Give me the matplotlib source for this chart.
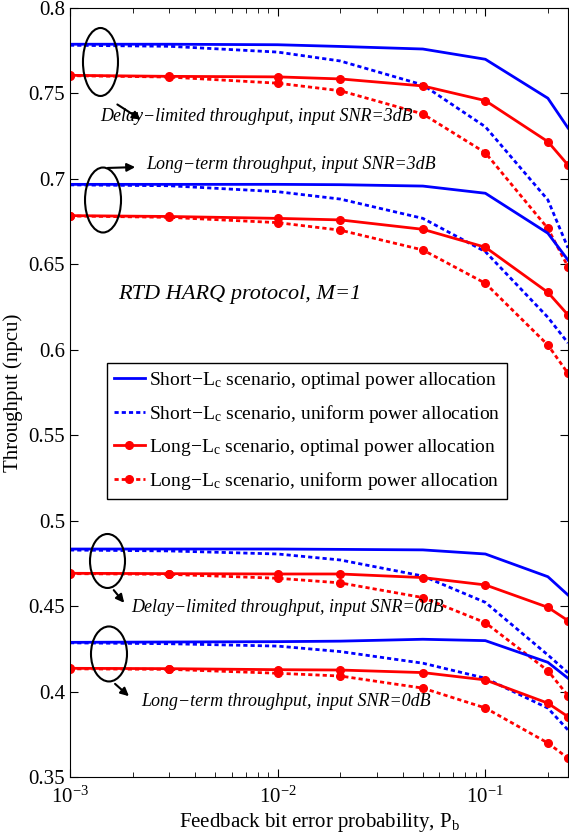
import matplotlib
matplotlib.use("Agg")
import matplotlib.pyplot as plt
from matplotlib.patches import Ellipse

plt.rcParams['font.family'] = ['Liberation Serif', 'DejaVu Serif']
plt.rcParams['mathtext.fontset'] = 'custom'
plt.rcParams['mathtext.rm'] = 'Liberation Serif'
plt.rcParams['mathtext.it'] = 'Liberation Serif:italic'

# feedback bit error probability
pb = [1e-3, 3e-3, 1e-2, 2e-2, 5e-2, 0.1, 0.2, 0.25]

# SNR = 3 dB, delay-limited
short_opt_dl3 = [0.7788, 0.7788, 0.7785, 0.7775, 0.7760, 0.7700, 0.7472, 0.7298]
short_uni_dl3 = [0.7782, 0.7776, 0.7742, 0.7690, 0.7550, 0.7305, 0.6877, 0.6596]
long_opt_dl3 = [0.7606, 0.7600, 0.7597, 0.7585, 0.7544, 0.7458, 0.7218, 0.7081]
long_uni_dl3 = [0.7604, 0.7596, 0.7560, 0.7516, 0.7380, 0.7153, 0.6710, 0.6486]

# SNR = 3 dB, long-term
short_opt_lt3 = [0.6968, 0.6968, 0.6968, 0.6966, 0.6958, 0.6916, 0.6682, 0.6525]
short_uni_lt3 = [0.6965, 0.6960, 0.6925, 0.6882, 0.6769, 0.6574, 0.6190, 0.6040]
long_opt_lt3 = [0.6785, 0.6780, 0.6769, 0.6760, 0.6705, 0.6600, 0.6336, 0.6204]
long_uni_lt3 = [0.6783, 0.6775, 0.6744, 0.6700, 0.6584, 0.6389, 0.6028, 0.5862]

# SNR = 0 dB, delay-limited
short_opt_dl0 = [0.4834, 0.4834, 0.4834, 0.4832, 0.4829, 0.4805, 0.4672, 0.4565]
short_uni_dl0 = [0.4828, 0.4823, 0.4805, 0.4770, 0.4676, 0.4522, 0.4214, 0.4110]
long_opt_dl0 = [0.4692, 0.4690, 0.4688, 0.4688, 0.4667, 0.4624, 0.4493, 0.4415]
long_uni_dl0 = [0.4690, 0.4686, 0.4663, 0.4636, 0.4550, 0.4403, 0.4122, 0.3976]

# SNR = 0 dB, long-term
short_opt_lt0 = [0.4288, 0.4290, 0.4292, 0.4295, 0.4306, 0.4298, 0.4171, 0.4078]
short_uni_lt0 = [0.4285, 0.4280, 0.4266, 0.4234, 0.4166, 0.4078, 0.3903, 0.3775]
long_opt_lt0 = [0.4136, 0.4134, 0.4128, 0.4126, 0.4111, 0.4068, 0.3932, 0.3853]
long_uni_lt0 = [0.4133, 0.4130, 0.4107, 0.4091, 0.4020, 0.3904, 0.3699, 0.3610]

labels = ['Short$\u2212$L$_\\mathrm{c}$ scenario, optimal power allocation',
          'Short$\u2212$L$_\\mathrm{c}$ scenario, uniform power allocation',
          'Long$\u2212$L$_\\mathrm{c}$ scenario, optimal power allocation',
          'Long$\u2212$L$_\\mathrm{c}$ scenario, uniform power allocation']
yticks = [0.35, 0.4, 0.45, 0.5, 0.55, 0.6, 0.65, 0.7, 0.75, 0.8]

fig = plt.figure(figsize=(5.69, 8.35), dpi=100)
ax = fig.add_axes([70 / 569, 1 - 777 / 835, 498 / 569, 769 / 835])

dash = (0, (1.5, 1.1))
lw = 2
groups = [(short_opt_dl3, short_uni_dl3, long_opt_dl3, long_uni_dl3),
          (short_opt_lt3, short_uni_lt3, long_opt_lt3, long_uni_lt3),
          (short_opt_dl0, short_uni_dl0, long_opt_dl0, long_uni_dl0),
          (short_opt_lt0, short_uni_lt0, long_opt_lt0, long_uni_lt0)]
for i, (so, su, lo, lu) in enumerate(groups):
    lab = labels if i == 0 else [None] * 4
    ax.plot(pb, so, color='blue', lw=lw, label=lab[0])
    ax.plot(pb, su, color='blue', lw=lw, ls=dash, label=lab[1])
    ax.plot(pb, lo, color='red', lw=lw, marker='o', ms=5.5, label=lab[2])
    ax.plot(pb, lu, color='red', lw=lw, ls=dash, marker='o', ms=5.5, label=lab[3])

ax.set_xscale('log')
ax.set_xlim(1e-3, 0.25)
ax.set_ylim(0.35, 0.8)
ax.set_yticks(yticks)
ax.set_yticklabels([('%.2f' % v).rstrip('0') for v in yticks])
ax.tick_params(which='both', direction='in', top=True, right=True, labelsize=15)
ax.tick_params(which='major', length=6)
ax.tick_params(which='minor', length=3.5)
ax.tick_params(axis='x', pad=7)
ax.set_xlabel('Feedback bit error probability, P$_\\mathrm{b}$', fontsize=15, labelpad=2)
ax.set_ylabel('Throughput (npcu)', fontsize=15, labelpad=4)

leg = ax.legend(loc='upper left', bbox_to_anchor=(0.0743, 0.5384), fontsize=14,
                fancybox=False, edgecolor='black', framealpha=1, handlelength=1.6,
                handletextpad=0.2, labelspacing=0.62, borderpad=0.35, borderaxespad=0,
                numpoints=1)
leg.get_frame().set_linewidth(1)

# ellipses marking the curve groups
ellipses = [(0.0612, 0.9298, 0.0703, 0.0884), (0.0663, 0.7503, 0.0723, 0.0845),
            (0.0753, 0.2809, 0.0703, 0.0702), (0.0783, 0.1600, 0.0723, 0.0715)]
for cx, cy, w, h in ellipses:
    ax.add_patch(Ellipse((cx, cy), w, h, transform=ax.transAxes, fill=False,
                         edgecolor='black', lw=1.5, zorder=5))

arrows = [((0.0904, 0.8765), (0.1466, 0.8531)), ((0.0703, 0.7919), (0.1365, 0.7932)),
          ((0.0843, 0.2458), (0.1124, 0.2237)), ((0.0863, 0.1235), (0.1225, 0.1027))]
for start, end in arrows:
    ax.annotate('', xy=end, xytext=start, xycoords='axes fraction',
                arrowprops=dict(arrowstyle='-|>', color='black', lw=1.5, mutation_scale=12))

notes = [('Delay\u2212limited throughput, input SNR=3dB', 0.0602, 0.8583, 13),
         ('Long\u2212term throughput, input SNR=3dB', 0.1526, 0.7971, 13),
         ('RTD HARQ protocol, M=1', 0.0964, 0.6268, 16),
         ('Delay\u2212limited throughput, input SNR=0dB', 0.1225, 0.2198, 13),
         ('Long\u2212term throughput, input SNR=0dB', 0.1426, 0.0988, 13)]
for txt, x, y, fs in notes:
    ax.text(x, y, txt, transform=ax.transAxes, fontsize=fs, style='italic',
            ha='left', va='center')

fig.savefig('out.png', dpi=100)
